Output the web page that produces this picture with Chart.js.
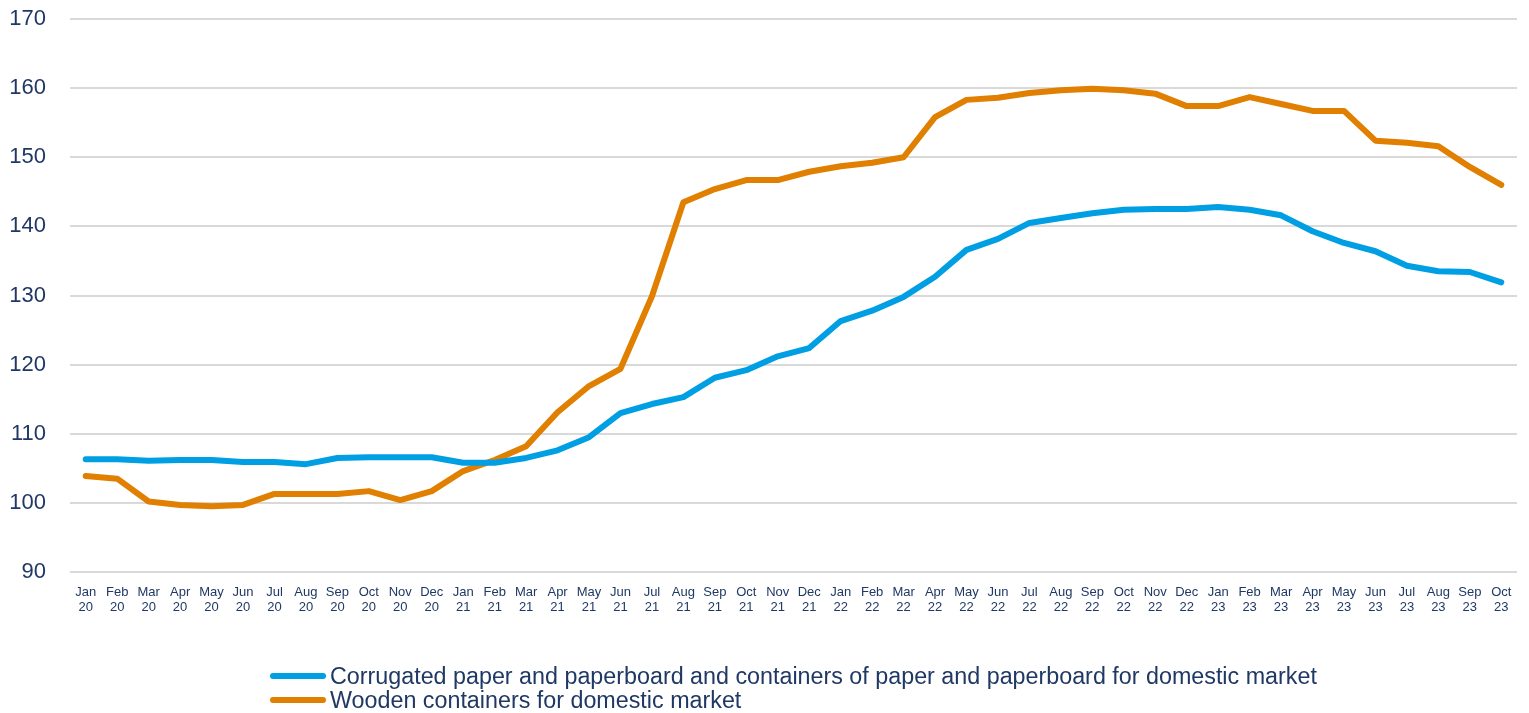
<!DOCTYPE html>
<html>
<head>
<meta charset="utf-8">
<script src="https://cdn.jsdelivr.net/npm/chart.js@4"></script>
<style>
  body { margin: 0; background: #fff; font-family: "Liberation Sans", Arial, sans-serif; }
  #wrap { position: relative; width: 1529px; height: 713px; }
  #legend { position: absolute; left: 270px; top: 664px; color: #1F3864; font-size: 23.3px; line-height: 24px; }
  .item { display: flex; align-items: center; }
  .swatch { width: 56px; height: 6px; border-radius: 3px; margin-right: 4px; }
</style>
</head>
<body>
<div id="wrap">
  <canvas id="chart" width="1529" height="713"></canvas>
  <div id="legend"></div>
</div>
<script>
const months = ['Jan', 'Feb', 'Mar', 'Apr', 'May', 'Jun', 'Jul', 'Aug', 'Sep', 'Oct', 'Nov', 'Dec'];
const years = ['20', '21', '22', '23'];
const labels = [];
years.forEach(y => months.forEach(m => labels.push([m, y])));
labels.length = 46; // Jan 20 .. Oct 23

const corrugated = [
  106.3, 106.3, 106.1, 106.2, 106.2, 105.9, 105.9, 105.6, 106.5, 106.6, 106.6, 106.6,
  105.8, 105.8, 106.5, 107.6, 109.5, 113.0, 114.3, 115.3, 118.1, 119.2, 121.2, 122.4,
  126.3, 127.8, 129.8, 132.7, 136.6, 138.2, 140.5, 141.2, 141.9, 142.4, 142.5, 142.5,
  142.8, 142.4, 141.6, 139.3, 137.6, 136.4, 134.3, 133.5, 133.4, 131.9
];
const wooden = [
  103.9, 103.5, 100.2, 99.7, 99.5, 99.7, 101.3, 101.3, 101.3, 101.7, 100.4, 101.7,
  104.6, 106.2, 108.2, 113.1, 116.9, 119.4, 129.9, 143.5, 145.4, 146.7, 146.7, 147.9,
  148.7, 149.2, 150.0, 155.8, 158.3, 158.6, 159.3, 159.7, 159.9, 159.7, 159.2, 157.4,
  157.4, 158.7, 157.7, 156.7, 156.7, 152.4, 152.1, 151.6, 148.6, 146.0
];
const seriesNames = [
  'Corrugated paper and paperboard and containers of paper and paperboard for domestic market',
  'Wooden containers for domestic market'
];
const colors = ['#009FE3', '#E07F00'];

const navy = '#1F3864';

const chart = new Chart(document.getElementById('chart'), {
  type: 'line',
  data: {
    labels: labels,
    datasets: [
      { label: seriesNames[0], data: corrugated, borderColor: colors[0], backgroundColor: colors[0] },
      { label: seriesNames[1], data: wooden, borderColor: colors[1], backgroundColor: colors[1] }
    ]
  },
  options: {
    responsive: false,
    animation: false,
    layout: { padding: { top: 19, right: 12, bottom: 91, left: 0 } },
    elements: {
      line: { borderWidth: 6, tension: 0, borderCapStyle: 'round', borderJoinStyle: 'round' },
      point: { radius: 0 }
    },
    plugins: {
      legend: { display: false },
      tooltip: { enabled: false }
    },
    scales: {
      x: {
        offset: true,
        grid: { display: false },
        border: { display: false },
        ticks: {
          color: navy,
          font: { family: 'Liberation Sans', size: 13, lineHeight: 1.15 },
          maxRotation: 0,
          autoSkip: false,
          padding: 5
        },
        afterFit: s => { s.height = 50; s.paddingLeft = 0; s.paddingRight = 0; }
      },
      y: {
        min: 90,
        max: 170,
        grid: { color: '#D9D9D9', lineWidth: 2, drawTicks: false },
        border: { display: false },
        ticks: {
          stepSize: 10,
          color: navy,
          font: { family: 'Liberation Sans', size: 22 },
          padding: 24
        },
        afterFit: s => { s.width = 70; s.paddingTop = 0; s.paddingBottom = 0; }
      }
    }
  }
});

// legend rows, left-aligned as in the original
const legend = document.getElementById('legend');
chart.data.datasets.forEach(ds => {
  const row = document.createElement('div');
  row.className = 'item';
  row.innerHTML = `<span class="swatch" style="background:${ds.borderColor}"></span><span>${ds.label}</span>`;
  legend.appendChild(row);
});
</script>
</body>
</html>
